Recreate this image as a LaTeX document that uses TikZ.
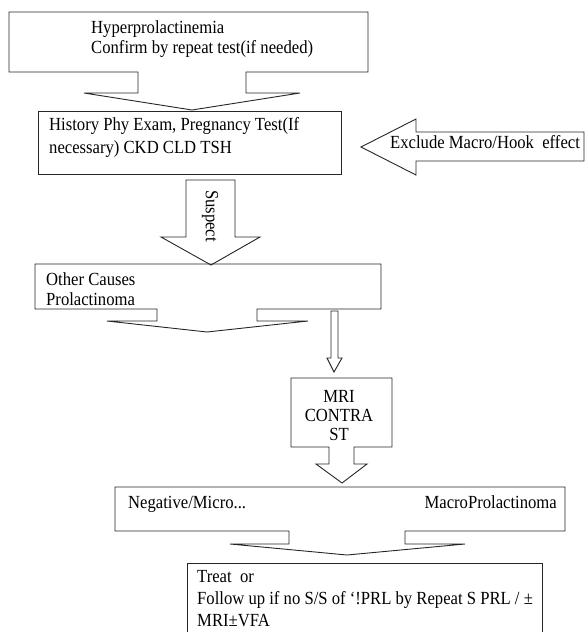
\documentclass[tikz,border=0pt]{standalone}
\usepackage{fontspec}
\setmainfont{Liberation Serif}[FakeStretch=0.9]
\usetikzlibrary{positioning}

\begin{document}
\begin{tikzpicture}[x=1pt,y=-1pt,
    callout/.style={draw=black!85,line width=0.9pt,line join=miter},
    box text/.style={font=\fontsize{18.5}{20}\selectfont,inner sep=0pt,
        anchor=base west,align=left},
    wide text/.style={box text,font=\fontsize{18.5}{23}\selectfont}
]
    \useasboundingbox (0,0) rectangle (587,632);

    % first box with its down arrow
    \draw[callout] (9,12) -- (368,12) -- (368,72) -- (246,72) -- (246,93)
        -- (300,93) -- (192,110) -- (84,93) -- (138,93) -- (138,72)
        -- (9,72) -- cycle;
    \node[box text] (hyper) at (91,53)
        {Hyperprolactinemia\\Confirm by repeat test(if needed)};

    % history box
    \draw[callout] (38,111) rectangle (341,174);
    \node[wide text] (history) at (49,153)
        {History Phy Exam, Pregnancy Test(If\\necessary) CKD CLD TSH};

    % left arrow
    \draw[callout] (361,147) -- (416,119) -- (416,132) -- (584,132)
        -- (584,161) -- (416,161) -- (416,175) -- cycle;
    \node[box text] (exclude) at (390,148) {Exclude Macro/Hook\ \ effect};

    % suspect arrow
    \draw[callout] (186,180) -- (235,180) -- (235,237) -- (260,237)
        -- (211,265) -- (161,237) -- (186,237) -- cycle;
    \node[font=\fontsize{18.5}{20}\selectfont,inner sep=0pt,rotate=-90]
        (suspect) at (210,216) {Suspect};

    % causes box
    \draw[callout] (35,264) -- (381,264) -- (381,309) -- (257,309)
        -- (257,321) -- (308,321) -- (207,332) -- (107,321) -- (157,321)
        -- (157,309) -- (35,309) -- cycle;
    \node[box text] (causes) at (46,305) {Other Causes\\Prolactinoma};

    % thin arrow to MRI
    \draw[callout] (331,311) -- (338,311) -- (338,358) -- (342,358)
        -- (334,372) -- (327,358) -- (331,358) -- cycle;

    % MRI box
    \draw[callout] (291,378) -- (392,378) -- (392,447) -- (354,447)
        -- (354,464) -- (367,464) -- (342,483) -- (316,464) -- (329,464)
        -- (329,447) -- (291,447) -- cycle;
    \node[font=\fontsize{18.5}{19}\selectfont,inner sep=0pt,align=center,
        anchor=base] (mri) at (339,440) {MRI\\CONTRA\\ST};

    % result box
    \draw[callout] (115,487) -- (565,487) -- (565,531) -- (405,531)
        -- (405,544) -- (465,544) -- (347,555) -- (230,544) -- (289,544)
        -- (289,531) -- (115,531) -- cycle;
    \node[box text] (micro) at (128,508) {Negative/Micro...};
    \node[box text,anchor=base east] (macro) at (557,508) {MacroProlactinoma};

    % treat box
    \draw[callout] (187,640) -- (187,563) -- (542,563) -- (542,640);
    \node[box text,font=\fontsize{18.5}{22}\selectfont] (treat) at (197,626)
        {Treat\ \ or\\Follow up if no S/S of ‘!PRL by Repeat S PRL / ±\\MRI±VFA};

\end{tikzpicture}
\end{document}
